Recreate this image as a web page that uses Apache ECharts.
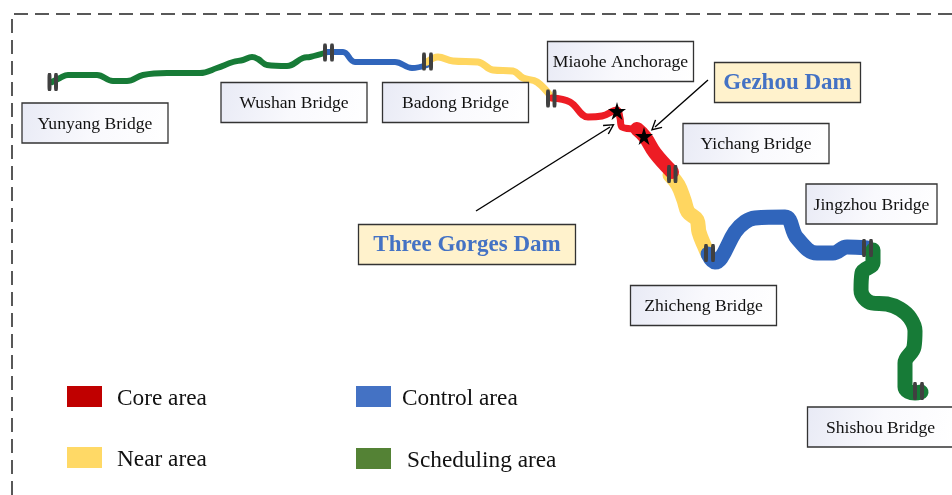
<!DOCTYPE html>
<html>
<head>
<meta charset="utf-8">
<title>River areas</title>
<style>
html, body { margin: 0; padding: 0; background: #fff; overflow: hidden; }
#main { width: 952px; height: 495px; }
</style>
<script src="https://cdn.jsdelivr.net/npm/echarts@6/dist/echarts.min.js"></script>
</head>
<body>
<div id="main"></div>
<script>
// river reaches, x/y
var schedulingUpper = [[52,82],[60,78],[68,75],[97,75],[113,81],[127,81],[143,75],[167,73],[200,73],[217,68],[233,62],[243,60],[252,57],[258,59],[267,65],[287,66],[303,58],[310,57],[328,52]];
var controlUpper = [[328,52],[343,52],[355,62],[395,62],[412,68],[427,65]];
var nearUpper = [[427,62],[438,57],[453,61],[478,62],[493,70],[513,71],[523,78],[537,82],[552,98]];
var coreThin = [[552,98],[570,102],[588,117],[602,116],[617,110],[620,118],[622,127],[637,129]];
var coreThick = [[637,129],[645,137],[655,153],[672,172]];
var nearLower = [[670,175],[678,185],[684,200],[688,212],[697,220],[699,232],[704,245],[708,254]];
var controlLower = [[708,254],[715,262],[721,258],[735,232],[745,222],[755,218],[785,217],[797,238],[817,253],[833,253],[847,247],[867,248]];
var schedulingLower = [[873,250],[873,263],[862,273],[861,290],[872,303],[887,304],[900,309],[910,318],[915,331],[914,347],[905,363],[905,387],[915,393],[921,392]];

var bridgeNames = ['Yunyang Bridge', 'Wushan Bridge', 'Badong Bridge', 'Miaohe Anchorage', 'Yichang Bridge', 'Jingzhou Bridge', 'Zhicheng Bridge', 'Shishou Bridge'];
var bridgeLabelX = [95, 294, 455.5, 620.5, 756, 871.5, 703.5, 880.5];
var bridgeLabelY = [123, 102.5, 102.5, 61.5, 143.5, 204, 305.5, 427];

var damNames = ['Three Gorges Dam', 'Gezhou Dam'];
var damLabelX = [467, 787.5];
var damLabelY = [244.5, 82.5];
var damStars = [[617,111],[644,136]];

// two bars on each bridge
var bridgeBars = [[49.5,82],[56,82],[325,52.5],[332,52.5],[424,61.5],[431,61.5],[548,98.5],[554.5,98.5],[669,174],[675.5,174],[706,253],[713,253],[864,248],[871,248],[915,391],[922,391]];

var frameLine = [[12,495],[12,14],[952,14]];
var arrowThreeGorges = [[476,211],[610,127]];
var arrowGezhou = [[708,80],[655,127]];

var areaNames = ['Core area', 'Control area', 'Near area', 'Scheduling area'];
var areaColors = ['#c00000', '#4472c4', '#ffd966', '#548235'];

var FONT = '"Liberation Serif", "Times New Roman", serif';
var STAR = 'path://M50,0 L61,35 L98,35 L68,57 L79,91 L50,70 L21,91 L32,57 L2,35 L39,35 Z';
var OPEN_ARROW = 'path://M0,10 L5,0 L10,10 L9,10.8 L5,2.8 L1,10.8 Z';

function riverSeries(name, points, width, color) {
	return {
		name: name,
		type: 'line',
		data: points,
		smooth: 0.4,
		showSymbol: false,
		silent: true,
		z: 2,
		lineStyle: { color: color, width: width, cap: 'round', join: 'round' }
	};
}

function pairs(xs, ys) {
	return xs.map(function (x, i) { return [x, ys[i]]; });
}

function legendAt(i, left, top) {
	return {
		left: left,
		top: top,
		orient: 'horizontal',
		selectedMode: false,
		itemWidth: 35,
		itemHeight: 21,
		itemGap: 0,
		padding: 0,
		formatter: '{t|{name}}',
		textStyle: {
			padding: [0, 0, 0, i === 3 ? 11 : i === 1 ? 6 : 10],
			rich: {
				t: { fontFamily: FONT, fontSize: 23.3, color: '#111', padding: [4, 0, 0, 0] }
			}
		},
		data: [{ name: areaNames[i], icon: 'rect', itemStyle: { color: areaColors[i], borderWidth: 0 } }]
	};
}

// label box with its text, centred on the data point
function boxRenderer(getWidth, boxFill, textStyle) {
	return function (params, api) {
		var c = api.coord([api.value(0), api.value(1)]);
		var name = api.value(2);
		var w = getWidth(name);
		var h = 40;
		return {
			type: 'group',
			children: [
				{
					type: 'rect',
					shape: { x: c[0] - w / 2, y: c[1] - h / 2, width: w, height: h },
					style: { fill: boxFill, stroke: '#333', lineWidth: 1.3 }
				},
				{
					type: 'text',
					style: {
						x: c[0],
						y: c[1] + 1,
						text: name,
						align: 'center',
						verticalAlign: 'middle',
						fontFamily: FONT,
						fontSize: textStyle.fontSize,
						fontWeight: textStyle.fontWeight,
						fill: textStyle.fill
					}
				}
			]
		};
	};
}

var chart = echarts.init(document.getElementById('main'), null, { renderer: 'canvas' });

var option = {
	animation: false,
	backgroundColor: '#fff',
	grid: { left: 0, right: 0, top: 0, bottom: 0 },
	xAxis: { type: 'value', min: 0, max: 952, show: false },
	yAxis: { type: 'value', min: 0, max: 495, inverse: true, show: false },
	legend: [
		legendAt(0, 67, 386),
		legendAt(1, 356, 386),
		legendAt(2, 67, 447),
		legendAt(3, 356, 448)
	],
	series: [
		// dashed frame
		{
			type: 'line',
			data: frameLine,
			showSymbol: false,
			silent: true,
			z: 1,
			lineStyle: { color: '#222', width: 1.5, type: [14, 7] }
		},
		riverSeries('Scheduling area', schedulingUpper, 6, '#177b37'),
		riverSeries('Control area', controlUpper, 6, '#3065bb'),
		riverSeries('Near area', nearUpper, 7, '#ffd660'),
		riverSeries('Near area', nearLower, 15, '#ffd660'),
		riverSeries('Core area', coreThin, 7, '#ed1c24'),
		riverSeries('Core area', coreThick, 14, '#ed1c24'),
		riverSeries('Control area', controlLower, 15, '#3065bb'),
		riverSeries('Scheduling area', schedulingLower, 15, '#177b37'),
		// bridges
		{
			type: 'scatter',
			data: bridgeBars,
			symbol: 'roundRect',
			symbolSize: [4, 18],
			silent: true,
			z: 4,
			itemStyle: { color: '#404040', opacity: 1 }
		},
		// dams
		{
			type: 'scatter',
			data: damStars,
			symbol: STAR,
			symbolSize: 18,
			silent: true,
			z: 5,
			itemStyle: { color: '#000', opacity: 1 }
		},
		// arrows
		{
			type: 'line',
			data: [],
			silent: true,
			z: 5,
			markLine: {
				silent: true,
				animation: false,
				symbol: ['none', OPEN_ARROW],
				symbolSize: 11,
				label: { show: false },
				lineStyle: { color: '#000', width: 1.4, type: 'solid' },
				data: [
					[{ coord: arrowThreeGorges[0] }, { coord: arrowThreeGorges[1] }],
					[{ coord: arrowGezhou[0] }, { coord: arrowGezhou[1] }]
				]
			}
		},
		// bridge labels
		{
			type: 'custom',
			coordinateSystem: 'cartesian2d',
			silent: true,
			z: 6,
			encode: { x: 0, y: 1 },
			data: pairs(bridgeLabelX, bridgeLabelY).map(function (p, i) {
				return [p[0], p[1], bridgeNames[i]];
			}),
			dimensions: ['x', 'y', { name: 'label', type: 'ordinal' }],
			renderItem: boxRenderer(function (name) {
				return name === 'Jingzhou Bridge' ? 131 : 146;
			}, new echarts.graphic.LinearGradient(0, 0, 1, 1, [
				{ offset: 0, color: '#e8eaf5' },
				{ offset: 0.5, color: '#f9f9fd' },
				{ offset: 1, color: '#ffffff' }
			]), { fontSize: 17.6, fontWeight: 'normal', fill: '#111' })
		},
		// dam labels
		{
			type: 'custom',
			coordinateSystem: 'cartesian2d',
			silent: true,
			z: 6,
			encode: { x: 0, y: 1 },
			data: pairs(damLabelX, damLabelY).map(function (p, i) {
				return [p[0], p[1], damNames[i]];
			}),
			dimensions: ['x', 'y', { name: 'label', type: 'ordinal' }],
			renderItem: boxRenderer(function (name) {
				return name === 'Gezhou Dam' ? 146 : 217;
			}, '#fff2cc', { fontSize: 23, fontWeight: 'bold', fill: '#4472c4' })
		}
	]
};

chart.setOption(option);
</script>
</body>
</html>
